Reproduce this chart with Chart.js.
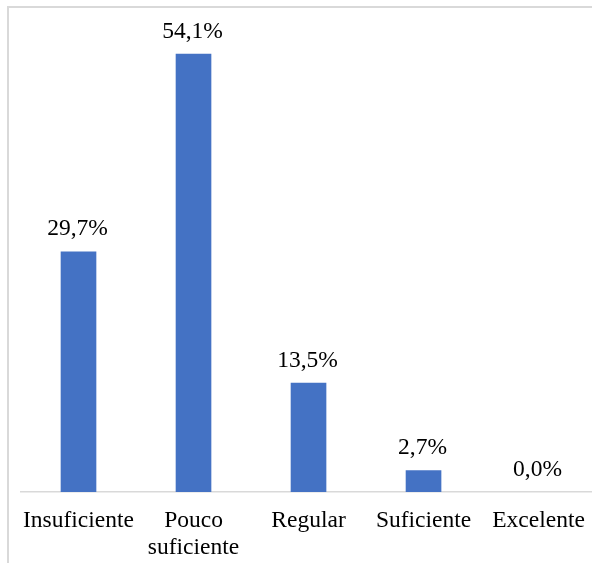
<!DOCTYPE html>
<html>
<head>
<meta charset="utf-8">
<script src="https://cdn.jsdelivr.net/npm/chart.js@4.4.1/dist/chart.umd.min.js"></script>
<style>
  html, body { margin: 0; padding: 0; background: #fff; overflow: hidden; }
  #wrap { position: relative; width: 592px; height: 563px; overflow: hidden; }
  #frame { position: absolute; left: 7px; top: 6px; width: 700px; height: 555px;
           border-left: 2px solid #d9d9d9; border-top: 2px solid #d9d9d9; }
  #cv { position: absolute; left: 0; top: 0; }
</style>
</head>
<body>
<div id="wrap">
  <div id="frame"></div>
  <canvas id="cv" width="600" height="563" style="width:600px;height:563px"></canvas>
</div>
<script>
const categories = [["Insuficiente"], ["Pouco", "suficiente"], ["Regular"], ["Suficiente"], ["Excelente"]];
const values = [29.7, 54.1, 13.5, 2.7, 0.0];
const valueLabels = ["29,7%", "54,1%", "13,5%", "2,7%", "0,0%"];

const FONT = "'Liberation Serif', 'Times New Roman', serif";

const valuePlugin = {
  id: 'valueLabels',
  afterDatasetsDraw(chart) {
    const ctx = chart.ctx;
    const meta = chart.getDatasetMeta(0);
    ctx.save();
    ctx.font = "23.5px " + FONT;
    ctx.fillStyle = "#000";
    ctx.textAlign = "center";
    ctx.textBaseline = "alphabetic";
    meta.data.forEach((bar, i) => {
      ctx.fillText(valueLabels[i], bar.x - 1, bar.y - 16);
    });
    ctx.restore();
  }
};

new Chart(document.getElementById('cv'), {
  type: 'bar',
  data: {
    labels: categories,
    datasets: [{
      data: values,
      backgroundColor: '#4472c4',
      borderWidth: 0,
      barPercentage: 0.31,
      categoryPercentage: 1.0
    }]
  },
  options: {
    responsive: false,
    animation: false,
    devicePixelRatio: 1,
    layout: { padding: { left: 21, right: 1.5, top: 6, bottom: 0 } },
    plugins: { legend: { display: false }, tooltip: { enabled: false } },
    scales: {
      x: {
        grid: { display: false, drawTicks: false },
        border: { display: true, color: '#d9d9d9', width: 1.5 },
        ticks: {
          color: '#000',
          font: { family: FONT, size: 23.5, lineHeight: 1.15 },
          padding: 15,
          maxRotation: 0,
          autoSkip: false
        },
        afterFit(scale) { scale.height = 71; }
      },
      y: {
        display: false,
        min: 0,
        max: 60
      }
    }
  },
  plugins: [valuePlugin]
});
</script>
</body>
</html>
